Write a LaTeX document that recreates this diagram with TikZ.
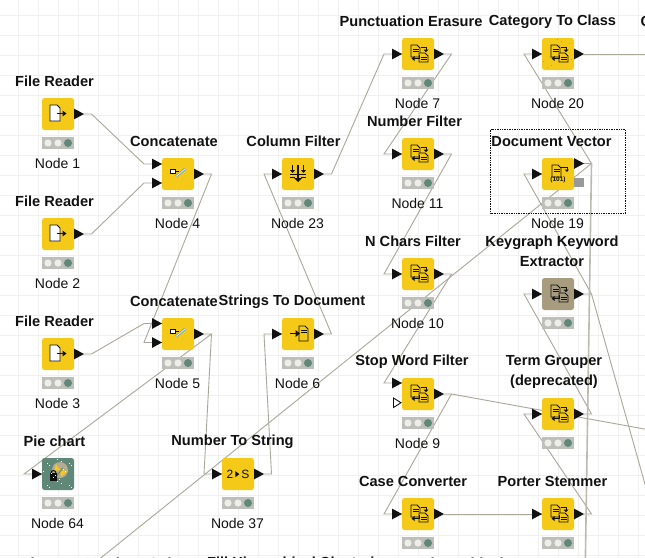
\documentclass[tikz,border=0pt]{standalone}
\usepackage{fontspec}
\setmainfont{Liberation Sans}
\usetikzlibrary{calc}
\definecolor{gridc}{HTML}{F0F0F0}
\definecolor{wirec}{HTML}{ABA799}
\definecolor{wirelt}{HTML}{BDBAAE}
\definecolor{kyellow}{HTML}{F5C917}
\definecolor{kbar}{HTML}{BEBEBA}
\definecolor{klight}{HTML}{EEEEE8}
\definecolor{kgreen}{HTML}{5F8878}
\definecolor{ktan}{HTML}{A89C7E}
\definecolor{kink}{HTML}{111111}
\definecolor{kpen}{HTML}{6FA3B5}
\pgfdeclarelayer{back}
\pgfsetlayers{back,main}
\newcommand{\st}{\rule[-3pt]{0pt}{14pt}}
\tikzset{
 x=1pt,y=-1pt,
 kbox/.style={draw=none,fill=#1,rounded corners=2.5pt,minimum size=32pt,inner sep=0pt},
 ktitle/.style={inner sep=0pt,align=center,text=kink,font=\fontsize{14.6}{20}\selectfont\bfseries},
 klabel/.style={inner sep=0pt,text=kink,font=\fontsize{14}{16}\selectfont},
 kbarbox/.style={fill=kbar,draw=none,minimum width=32pt,minimum height=12pt,inner sep=0pt},
 wire/.style={draw=wirec,line width=0.9pt,line join=miter},
 wirethick/.style={draw=wirelt,line width=1.6pt},
 ico/.style={draw=kink,line width=0.8pt,line join=miter},
 porttip/.style={fill=kink,draw=none},
}
% [fill] name, x, y, title x, title y, title, label
\newcommand{\knode}[8][kyellow]{%
 \node[kbox=#1] (#2) at (#3,#4) {};
 \node[ktitle] (#2t) at (#5,#6) {#7};
 \node[klabel] (#2l) at (#3-0.5,#4+49) {#8};
 \node[kbarbox] (#2s) at (#3,#4+29) {};
 \fill[klight] ($(#2s.center)+(-10,0)$) circle (3.6);
 \fill[klight] ($(#2s.center)+(0,0)$) circle (3.6);
 \fill[kgreen] ($(#2s.center)+(10,0)$) circle (4);
}
% name, dy
\newcommand{\kout}[2]{%
 \coordinate (#1-o) at ($(#1.center)+(26,#2)$);
 \coordinate (#1-oe) at ($(#1.center)+(33.5,#2)$);
 \fill[porttip] ($(#1.center)+(16,#2-5.4)$) -- (#1-o) -- ($(#1.center)+(16,#2+5.4)$) -- cycle;
}
% name, suffix, dy
\newcommand{\kin}[3]{%
 \coordinate (#1-i#2) at ($(#1.center)+(-16,#3)$);
 \coordinate (#1-e#2) at ($(#1.center)+(-34,#3)$);
 \fill[porttip] ($(#1.center)+(-26,#3-5.4)$) -- (#1-i#2) -- ($(#1.center)+(-26,#3+5.4)$) -- cycle;
}
\newcommand{\icoreader}[1]{\begin{scope}[shift={(#1.center)}]
 \draw[ico,fill=white,line width=0.9pt] (-8,-9) -- (-1,-9) -- (2,-6) -- (2,7) -- (-8,7) -- cycle;
 \draw[ico,line width=1.1pt] (-1,-0.5) -- (6,-0.5);
 \fill[kink] (4.5,-3.5) -- (8.5,-0.5) -- (4.5,2.5) -- cycle;
\end{scope}}
% x, y, width, height, fill
\newcommand{\icodoc}[5]{\draw[ico,fill=#5] (#1,#2) -- ++(#3-3,0) -- ++(3,3) -- ++(0,#4-3) -- ++(-#3,0) -- cycle;
 \draw[ico,line width=0.7pt] (#1+1.5,#2+4) -- ++(#3-3,0) (#1+1.5,#2+6.5) -- ++(#3-3,0);}
% node, background colour
\newcommand{\icoconv}[2]{\begin{scope}[shift={(#1.center)}]
 \icodoc{-7}{-9}{9}{12}{none}
 \icodoc{1}{-1}{9}{9}{#2}
 \draw[ico] (3,-6.5) -- (8,-6.5) -- (8,-4);
 \fill[kink] (5.5,-4.5) -- (10.5,-4.5) -- (8,-1.8) -- cycle;
 \draw[ico] (1,1) -- (1,4.5) -- (-5,4.5);
 \fill[kink] (-3.5,2) -- (-3.5,7) -- (-6.5,4.5) -- cycle;
\end{scope}}
\newcommand{\icoconcat}[1]{\begin{scope}[shift={(#1.center)}]
 \draw[ico,fill=white] (-8,-4.5) rectangle (-3,-0.5);
 \draw[ico] (-3,-2.5) -- (1,-2.5);
 \draw[draw=kpen,line width=2.4pt] (-2,2.5) -- (7,-5);
 \draw[draw=white,line width=0.6pt] (-2,2.5) -- (7,-5);
\end{scope}}
\newcommand{\icofilter}[1]{\begin{scope}[shift={(#1.center)}]
 \draw[ico] (-8,0) -- (8,0) (-8,3) -- (-3,3) (3,3) -- (8,3);
 \draw[ico,line width=1.1pt] (0,-9) -- (0,5);
 \draw[ico] (-5.5,-9) -- (-5.5,-3) (5.5,-9) -- (5.5,-3);
 \fill[kink] (-8,-4) -- (-3,-4) -- (-5.5,-1) -- cycle;
 \fill[kink] (3,-4) -- (8,-4) -- (5.5,-1) -- cycle;
 \fill[kink] (-4,4) -- (4,4) -- (0,8) -- cycle;
\end{scope}}
\newcommand{\icostrdoc}[1]{\begin{scope}[shift={(#1.center)}]
 \icodoc{1}{-8}{9}{15}{none}
 \draw[ico,line width=1.2pt] (-8,-0.5) -- (-1,-0.5);
 \fill[kink] (-2.5,-4) -- (2,-0.5) -- (-2.5,3) -- cycle;
\end{scope}}
\newcommand{\icovector}[1]{\begin{scope}[shift={(#1.center)}]
 \icodoc{-6}{-9}{9}{12}{none}
 \draw[ico] (3,-7) -- (9,-7) -- (9,-4);
 \fill[kink] (6.5,-4.5) -- (11,-4.5) -- (9,-2) -- cycle;
 \node[inner sep=0pt,text=kink,font=\fontsize{6.5}{7}\selectfont\bfseries] at (0,6) {(101)};
\end{scope}}
\newcommand{\speckle}[3]{\begin{scope}[shift={(#1.center)}]
 \foreach \a in {-15,-13,...,14}{\foreach \b in {-15,-13,...,14}{
  \pgfmathtruncatemacro{\keep}{mod(abs(\a*7+\b*13+\a*\b),#3)}
  \ifnum\keep=0 \fill[#2] (\a,\b) rectangle ++(1,1);\fi
 }}
\end{scope}}
\begin{document}
\begin{tikzpicture}
\useasboundingbox (0,0) rectangle (645,557);
\clip (0,0) rectangle (645,557);
% ---- nodes
\knode{n1}{58}{114}{54.5}{82}{\st File Reader}{Node 1}
\knode{n2}{58}{234}{54.5}{202}{\st File Reader}{Node 2}
\knode{n3}{58}{354}{54.5}{322}{\st File Reader}{Node 3}
\knode[kgreen]{n64}{58}{474}{54.5}{442}{\st Pie chart}{Node 64}
\knode{n4}{178}{174}{174}{142}{\st Concatenate}{Node 4}
\knode{n5}{178}{334}{174}{302}{\st Concatenate}{Node 5}
\knode{n23}{298}{174}{293.5}{142}{\st Column Filter}{Node 23}
\knode{n6}{298}{334}{292}{302}{\st Strings To Document}{Node 6}
\knode{n37}{238}{474}{232.5}{442}{\st Number To String}{Node 37}
\knode{n7}{418}{54}{411}{22}{\st Punctuation Erasure}{Node 7}
\knode{n11}{418}{154}{414.5}{122}{\st Number Filter}{Node 11}
\knode{n10}{418}{274}{413}{242}{\st N Chars Filter}{Node 10}
\knode{n9}{418}{394}{412}{362}{\st Stop Word Filter}{Node 9}
\knode{n20}{558}{54}{552.5}{22}{\st Category To Class}{Node 20}
\knode{n19}{558}{174}{551.5}{142}{\st Document Vector}{Node 19}
\knode[ktan]{nk}{558}{294}{552}{252}{\st Keygraph Keyword\\\st Extractor}{}
\knode{nt}{558}{414}{554}{372}{\st Term Grouper\\\st (deprecated)}{}
\node[kbox=kyellow] (nc) at (418,514) {};
\node[ktitle] (nct) at (413,482) {\st Case Converter};
\node[kbarbox] (ncs) at (418,543) {};
\fill[klight] ($(ncs.center)+(-10,0)$) circle (3.6);
\fill[klight] (ncs.center) circle (3.6);
\fill[kgreen] ($(ncs.center)+(10,0)$) circle (4);
\node[kbox=kyellow] (np) at (558,514) {};
\node[ktitle] (npt) at (552.5,482) {\st Porter Stemmer};
\node[kbarbox] (nps) at (558,543) {};
\fill[klight] ($(nps.center)+(-10,0)$) circle (3.6);
\fill[klight] (nps.center) circle (3.6);
\fill[kgreen] ($(nps.center)+(10,0)$) circle (4);
% captions cut by the picture's edges, as in the reference
\node[ktitle,anchor=west] (cr) at (640.5,22) {\st C};
\node[ktitle,anchor=west] (b1) at (20,564) {\st Distance Matrix};
\node[ktitle,anchor=west] (b2) at (148,564) {\st Color};
\node[ktitle,anchor=west] (b3) at (207,564) {\st Fill Hierarchical Clustering};
\node[ktitle,anchor=west] (b4) at (420,564) {\st Hierarchical};
% ---- ports
\foreach \n in {n1,n2,n3,n4,n5,n23,n6,n37,n7,n11,n10,n9,n20,nk,nt,nc,np}{\kout{\n}{0}}
\kout{n19}{-10.5}
\foreach \n in {n64,n23,n6,n37,n7,n11,n10,n20,n19,nk,nt,nc,np}{\kin{\n}{}{0}}
\kin{n4}{a}{-10}\kin{n4}{b}{9}
\kin{n5}{a}{-10.5}\kin{n5}{b}{8.5}
\kin{n9}{a}{-11}
\fill[white,draw=kink,line width=0.9pt] (393.5,398) -- (393.5,407.5) -- (401,402.7) -- cycle;
% ---- icons
\speckle{nk}{kyellow}{2}
\speckle{n20}{ktan}{17}
\icoreader{n1}\icoreader{n2}\icoreader{n3}
\icoconcat{n4}\icoconcat{n5}
\icofilter{n23}\icostrdoc{n6}
\foreach \n in {n7,n11,n10,n9,n20,nt,nc,np}{\icoconv{\n}{kyellow}}
\icoconv{nk}{ktan}
\icovector{n19}
\node[inner sep=0pt,text=kink,font=\fontsize{12}{12}\selectfont] (n37i) at (n37.center) {2\,\raisebox{1pt}{\tikz[x=1pt,y=1pt]\fill[kink] (0,0) -- (0,6) -- (4,3) -- cycle;}\,S};
% pie chart icon
\begin{scope}[shift={(n64.center)}]
 \fill[ktan!85!white] (2,-4) circle (8);
 \fill[kyellow] (2,-4) -- (-2,-10) -- (-4,-3) -- cycle;
 \fill[kyellow] (2,-4) -- (10,-3) -- (3,3) -- cycle;
 \draw[kgreen,line width=1pt] (-3,4) -- (5,-6);
 \fill[kink] (-8,-1) rectangle (-1,7);
 \draw[kink,line width=1pt] (-7,-1) arc (180:360:2.5);
\end{scope}
\speckle{n64}{white}{11}
% gray port of Document Vector
\fill[gray!80] (574,178) rectangle (584,187);
% selection frame
\draw[kink,line width=0.7pt,densely dotted] (490.5,129.5) rectangle (625.5,213);
% free ends
\coordinate (endA) at (650,54);
\coordinate (endB) at (585.3,565);
\coordinate (endC) at (92,565);
\coordinate (endD) at (650,430);
\coordinate (endE) at (650,502);
% ---- background: grid and connectors
\begin{pgfonlayer}{back}
\clip (0,0) rectangle (645,557);
\fill[white] (0,0) rectangle (645,557);
\foreach \i in {0,...,31}{\draw[gridc,line width=0.9pt] (18+20*\i,0) -- (18+20*\i,557);}
\foreach \i in {0,...,27}{\draw[gridc,line width=0.9pt] (0,15+20*\i) -- (645,15+20*\i);}
\draw[wire] (n1-o) -- (n1-oe) -- (n4-ea) -- (n4-ia);
\draw[wire] (n2-o) -- (n2-oe) -- (n4-eb) -- (n4-ib);
\draw[wire] (n3-o) -- (n3-oe) -- (n5-ea) -- (n5-ia);
\draw[wire] (n4-o) -- (n4-oe) -- (n5-eb) -- (n5-ib);
\draw[wire] (n5-o) -- (n5-oe) -- (n64-e) -- (n64-i);
\draw[wire] (n5-oe) -- (n37-e) -- (n37-i);
\draw[wire] (n37-o) -- (n37-oe) -- (n6-e) -- (n6-i);
\draw[wire] (n6-o) -- (n6-oe) -- (n23-e) -- (n23-i);
\draw[wire] (n23-o) -- (n23-oe) -- (n7-e) -- (n7-i);
\draw[wire] (n7-o) -- (n7-oe) -- (n11-e) -- (n11-i);
\draw[wire] (n11-o) -- (n11-oe) -- (n10-e) -- (n10-i);
\draw[wire] (n10-o) -- (n10-oe) -- (n9-ea) -- (n9-ia);
\draw[wire] (n9-o) -- (n9-oe) -- (nc-e) -- (nc-i);
\draw[wire] (n9-oe) -- (endD);
\draw[wire] (nc-o) -- (np-i);
\draw[wire] (np-o) -- (np-oe) -- (nt-e) -- (nt-i);
\draw[wire] (nt-o) -- (nt-oe) -- (nk-e) -- (nk-i);
\draw[wire] (nk-o) -- (nk-oe) -- (n19-e) -- (n19-i);
\draw[wire] (nk-oe) -- (endE);
\draw[wire] (n19-o) -- (n19-oe) -- (n20-e) -- (n20-i);
\draw[wire] (n19-oe) -- (endC);
\draw[wirethick] (n19-oe) -- (endB);
\draw[wire] (n20-o) -- (endA);
\end{pgfonlayer}
\end{tikzpicture}
\end{document}
